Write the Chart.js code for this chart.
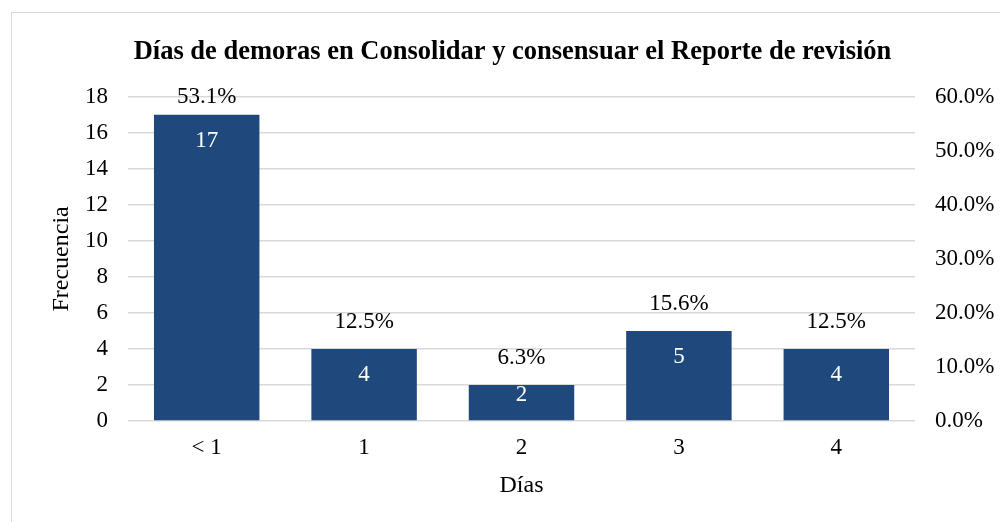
<!DOCTYPE html>
<html>
<head>
<meta charset="utf-8">
<script src="https://cdn.jsdelivr.net/npm/chart.js@4.4.1/dist/chart.umd.min.js"></script>
<style>
  html, body { margin: 0; padding: 0; background: #fff; }
  #frame { position: absolute; left: 11px; top: 12px; width: 1000px; height: 520px; border: 1px solid #d9d9d9; }
  #wrap { position: absolute; left: 0; top: 0; width: 1000px; height: 522px; }
</style>
</head>
<body>
<div id="frame"></div>
<div id="wrap"><canvas id="chart"></canvas></div>
<script>
const categories = ['< 1', '1', '2', '3', '4'];
const frecuencia = [17, 4, 2, 5, 4];
const porcentaje = [53.1, 12.5, 6.3, 15.6, 12.5];
const pctTicks = [0, 10, 20, 30, 40, 50, 60];

const SERIF = "'Liberation Serif', 'Times New Roman', serif";
const BAR = '#1f497d';

// value inside bar + percentage above bar
const barLabels = {
  id: 'barLabels',
  afterDatasetsDraw(chart) {
    const ctx = chart.ctx;
    const meta = chart.getDatasetMeta(0);
    const area = chart.chartArea;
    ctx.save();
    ctx.font = '23px ' + SERIF;
    ctx.textAlign = 'center';
    ctx.textBaseline = 'middle';
    meta.data.forEach((bar, i) => {
      const top = bar.y;
      const h = bar.base - bar.y;
      ctx.fillStyle = '#ffffff';
      ctx.fillText(frecuencia[i], bar.x, Math.min(top + 26, top + h / 2 - 8));
      ctx.fillStyle = '#000000';
      ctx.fillText(porcentaje[i].toFixed(1) + '%', bar.x, Math.max(area.top, top - 27));
    });
    ctx.restore();
  }
};

new Chart(document.getElementById('chart'), {
  type: 'bar',
  data: {
    labels: categories,
    datasets: [{
      label: 'Frecuencia',
      data: frecuencia,
      backgroundColor: BAR,
      borderWidth: 0,
      categoryPercentage: 1,
      barPercentage: 0.67,
      yAxisID: 'y'
    }]
  },
  options: {
    responsive: true,
    maintainAspectRatio: false,
    animation: false,
    layout: { padding: { left: 25, right: 0, top: 36, bottom: 22 } },
    plugins: {
      legend: { display: false },
      tooltip: { enabled: false },
      title: {
        display: true,
        text: 'Días de demoras en Consolidar y consensuar el Reporte de revisión',
        color: '#000',
        font: { family: SERIF, size: 26.5, weight: 'bold' },
        padding: { top: 0, bottom: 29 }
      }
    },
    scales: {
      x: {
        grid: { display: false },
        border: { display: false },
        ticks: { color: '#000', font: { family: SERIF, size: 23 }, padding: 5 },
        title: { display: true, text: 'Días', color: '#000', font: { family: SERIF, size: 24 }, padding: { top: 8, bottom: 0 } },
        afterFit(scale) { scale.height = 79; }
      },
      y: {
        position: 'left',
        min: 0,
        max: 18,
        ticks: { stepSize: 2, color: '#000', font: { family: SERIF, size: 23 }, padding: 20 },
        grid: { color: '#d9d9d9', lineWidth: 1.5, drawTicks: false },
        border: { display: false },
        title: { display: true, text: 'Frecuencia', color: '#000', font: { family: SERIF, size: 24 }, padding: { top: 22, bottom: 2 } },
        afterFit(scale) { scale.width = 103; }
      },
      y1: {
        position: 'right',
        min: 0,
        max: 60,
        afterBuildTicks(scale) { scale.ticks = pctTicks.map(v => ({ value: v })); },
        ticks: { color: '#000', font: { family: SERIF, size: 23 }, padding: 20, callback: v => v.toFixed(1) + '%' },
        grid: { display: false, drawTicks: false },
        border: { display: false },
        afterFit(scale) { scale.width = 85; }
      }
    }
  },
  plugins: [barLabels]
});
</script>
</body>
</html>
